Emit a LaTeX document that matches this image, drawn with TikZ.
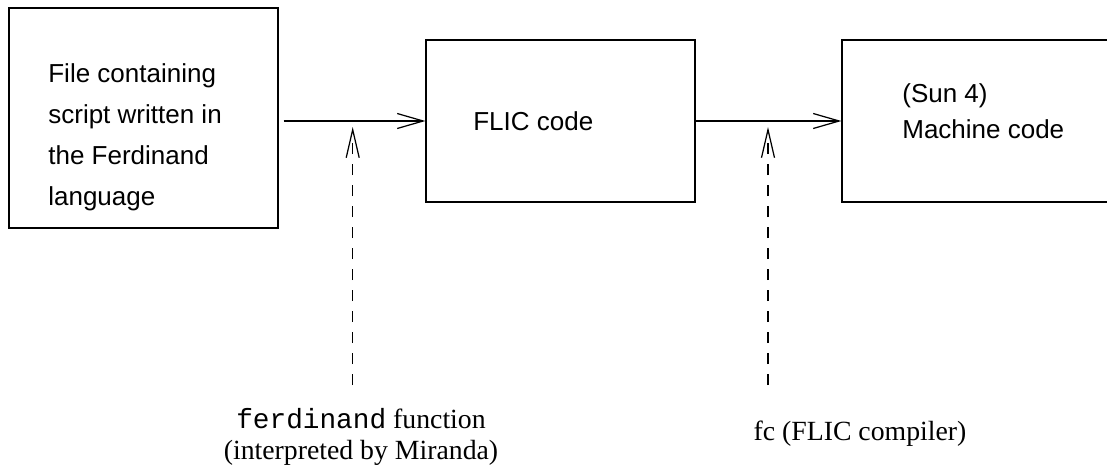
\documentclass[tikz,border=0pt]{standalone}
\usepackage{fontspec}
\setmainfont{Liberation Serif}
\setsansfont{Liberation Sans}
\setmonofont{Liberation Mono}
\usetikzlibrary{arrows.meta}
\tikzset{
  box/.style={draw,line width=0.7pt,inner sep=0pt},
  boxtext/.style={font=\sffamily\fontsize{14.8}{23.3}\selectfont,inner sep=0pt},
  tooltext/.style={font=\rmfamily\fontsize{15.8}{17.6}\selectfont,inner sep=0pt,align=center},
  flow/.style={line width=0.7pt,-{Straight Barb[length=5.2mm,width=3mm]}},
  uses/.style={line width=0.7pt,dash pattern=on 2.2mm off 2mm,-{Straight Barb[length=5.6mm,width=2.6mm]}}
}
\begin{document}
\begin{tikzpicture}[x=0.02cm,y=-0.02cm]
\useasboundingbox (0,0) rectangle (1107,467);
\clip (0,0) rectangle (1107,467);

\node[box,minimum width=5.38cm,minimum height=4.4cm] (file) at (143.5,118) {};
\node[box,minimum width=5.38cm,minimum height=3.24cm] (flic) at (560.5,121) {};
\node[box,minimum width=5.46cm,minimum height=3.24cm] (mach) at (978.5,121) {};

\node[boxtext,anchor=base west,align=left] (filetext) at (48,205)
  {File containing\\script written in\\the Ferdinand\\language};
\node[boxtext,anchor=base west] (flictext) at (473,130) {FLIC code};
\node[boxtext,anchor=base west] (suntext) at (902,102) {(Sun 4)};
\node[boxtext,anchor=base west] (machtext) at (902,138) {Machine code};

\node[tooltext,anchor=base] (ferd) at (361,459)
  {\texttt{ferdinand} function\\(interpreted by Miranda)};
\node[tooltext,anchor=base] (fc) at (860,440) {fc (FLIC compiler)};

\coordinate (ferdfoot) at (352.7,385);
\coordinate (fcfoot) at (768,385);

\draw[flow,shorten <=0.1cm] (file.east |- flic.west) -- (flic.west);
\draw[flow] (flic.east) -- (mach.west);
\draw[uses,shorten >=0.12cm] (ferdfoot) -- (ferdfoot |- flic.west);
\draw[uses,shorten >=0.12cm] (fcfoot) -- (fcfoot |- mach.west);
\end{tikzpicture}
\end{document}
